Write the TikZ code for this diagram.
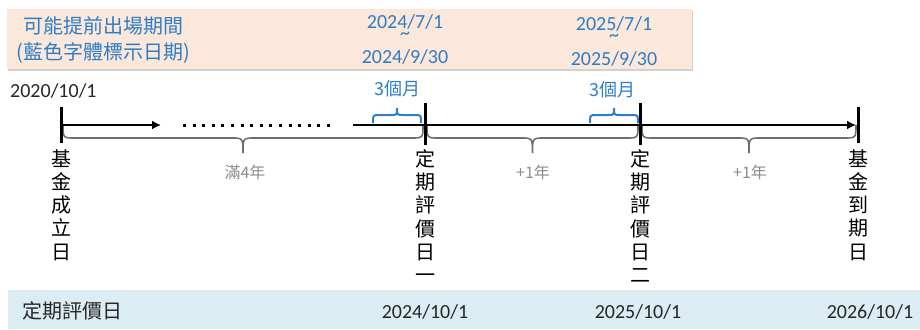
\documentclass[tikz,border=0pt]{standalone}
\usepackage{fontspec}
\setmainfont{Carlito}
\newfontfamily\cjk{Noto Sans CJK TC}
\usetikzlibrary{arrows.meta}
\definecolor{peach}{RGB}{252,232,218}
\definecolor{lblue}{RGB}{219,237,243}
\definecolor{tblue}{RGB}{46,125,200}
\definecolor{bgray}{RGB}{110,110,110}
\definecolor{lgray}{RGB}{140,140,140}
\definecolor{dtext}{RGB}{38,38,38}
\newcommand\dnbrace[2]{%
  \pgfmathsetmacro\bmid{(#1+#2)/2}%
  \draw[gbr] (#1,125) .. controls (#1,138) .. (#1+12,138) -- (\bmid-12,138)
    .. controls (\bmid,138) .. (\bmid,153) .. controls (\bmid,138) .. (\bmid+12,138)
    -- (#2-12,138) .. controls (#2,138) .. (#2,125);}
\newcommand\upbrace[2]{%
  \pgfmathsetmacro\bmid{(#1+#2)/2}%
  \draw[bbr] (#1,123) .. controls (#1,115) .. (#1+6,115) -- (\bmid-6,115)
    .. controls (\bmid,115) .. (\bmid,108) .. controls (\bmid,115) .. (\bmid+6,115)
    -- (#2-6,115) .. controls (#2,115) .. (#2,123);}
\begin{document}
\begin{tikzpicture}[x=1pt,y=-1pt,
  datef/.style={font=\fontsize{20}{24}\selectfont, inner sep=0pt},
  bluedate/.style={datef, text=tblue},
  cjkt/.style={font=\cjk\fontsize{20}{24}\selectfont, inner sep=0pt},
  vlab/.style={font=\cjk\fontsize{20}{23.3}\selectfont, align=center, inner sep=0pt, anchor=north, text=black},
  tickline/.style={line width=3pt, black},
  tline/.style={line width=2.6pt, black},
  gbr/.style={line width=1.6pt, bgray},
  bbr/.style={line width=2pt, tblue},
  glab/.style={font=\cjk\fontsize{16}{20}\selectfont, text=lgray, inner sep=0pt},
  mlab/.style={font=\cjk\fontsize{18}{20}\selectfont, text=tblue, inner sep=0pt}
]
\useasboundingbox (0,0) rectangle (920,329);
% top box
\fill[black!18] (8,11) rectangle (693,71);
\fill[peach] (7,9) rectangle (692,69);
\node[cjkt, text=tblue, align=center] (title) at (103,40) {可能提前出場期間\\[2pt](藍色字體標示日期)};
\node[bluedate, align=center, anchor=north] (d1) at (405,14) {2024/7/1\\[-13pt]\symbol{126}\\2024/9/30};
\node[bluedate, align=center, anchor=north] (d2) at (614,16) {2025/7/1\\[-13pt]\symbol{126}\\2025/9/30};
% start date
\node[datef, text=dtext, anchor=west] (start) at (10,91) {2020/10/1};
% timeline coordinates
\coordinate (t0) at (61,125);
\coordinate (t1) at (425,125);
\coordinate (t2) at (640,125);
\coordinate (t3) at (858,125);
\coordinate (a1) at (161,125);
\coordinate (dd0) at (183,125);
\coordinate (dd1) at (330,125);
\coordinate (s1) at (353,125);
% braces (drawn first, behind)
\dnbrace{63}{423}
\dnbrace{427}{638}
\dnbrace{642}{856}
\upbrace{373}{421}
\upbrace{590}{638}
% timeline
\draw[tline, -{Latex[length=9pt,width=9pt]}] (t0) -- (a1);
\draw[line width=3pt, dash pattern=on 3pt off 6.6pt] (dd0) -- (dd1);
\draw[tline, -{Latex[length=9pt,width=9pt]}] (s1) -- ([xshift=-2pt]t3);
\draw[tickline] (61,107) -- (61,143);
\draw[tickline] (425,103) -- (425,145);
\draw[tickline] (640,103) -- (640,145);
\draw[tickline] (858,107) -- (858,143);
% labels
\node[mlab] (m1) at (397,89) {3個月};
\node[mlab] (m2) at (612,90) {3個月};
\node[glab] (g0) at (245,172) {滿4年};
\node[glab] (g1) at (533,172) {+1年};
\node[glab] (g2) at (750,172) {+1年};
\node[vlab] (v0) at (61,149) {基\\金\\成\\立\\日};
\node[vlab] (v1) at (425,149) {定\\期\\評\\價\\日\\一};
\node[vlab] (v2) at (640,149) {定\\期\\評\\價\\日\\二};
\node[vlab] (v3) at (858,149) {基\\金\\到\\期\\日};
% bottom bar
\fill[lblue] (8,290) rectangle (920,329);
\node[cjkt, text=dtext, anchor=west] (bl) at (22,311) {定期評價日};
\node[datef, text=dtext] (b1) at (425,312) {2024/10/1};
\node[datef, text=dtext] (b2) at (638,312) {2025/10/1};
\node[datef, text=dtext] (b3) at (870,312) {2026/10/1};
\end{tikzpicture}
\end{document}
